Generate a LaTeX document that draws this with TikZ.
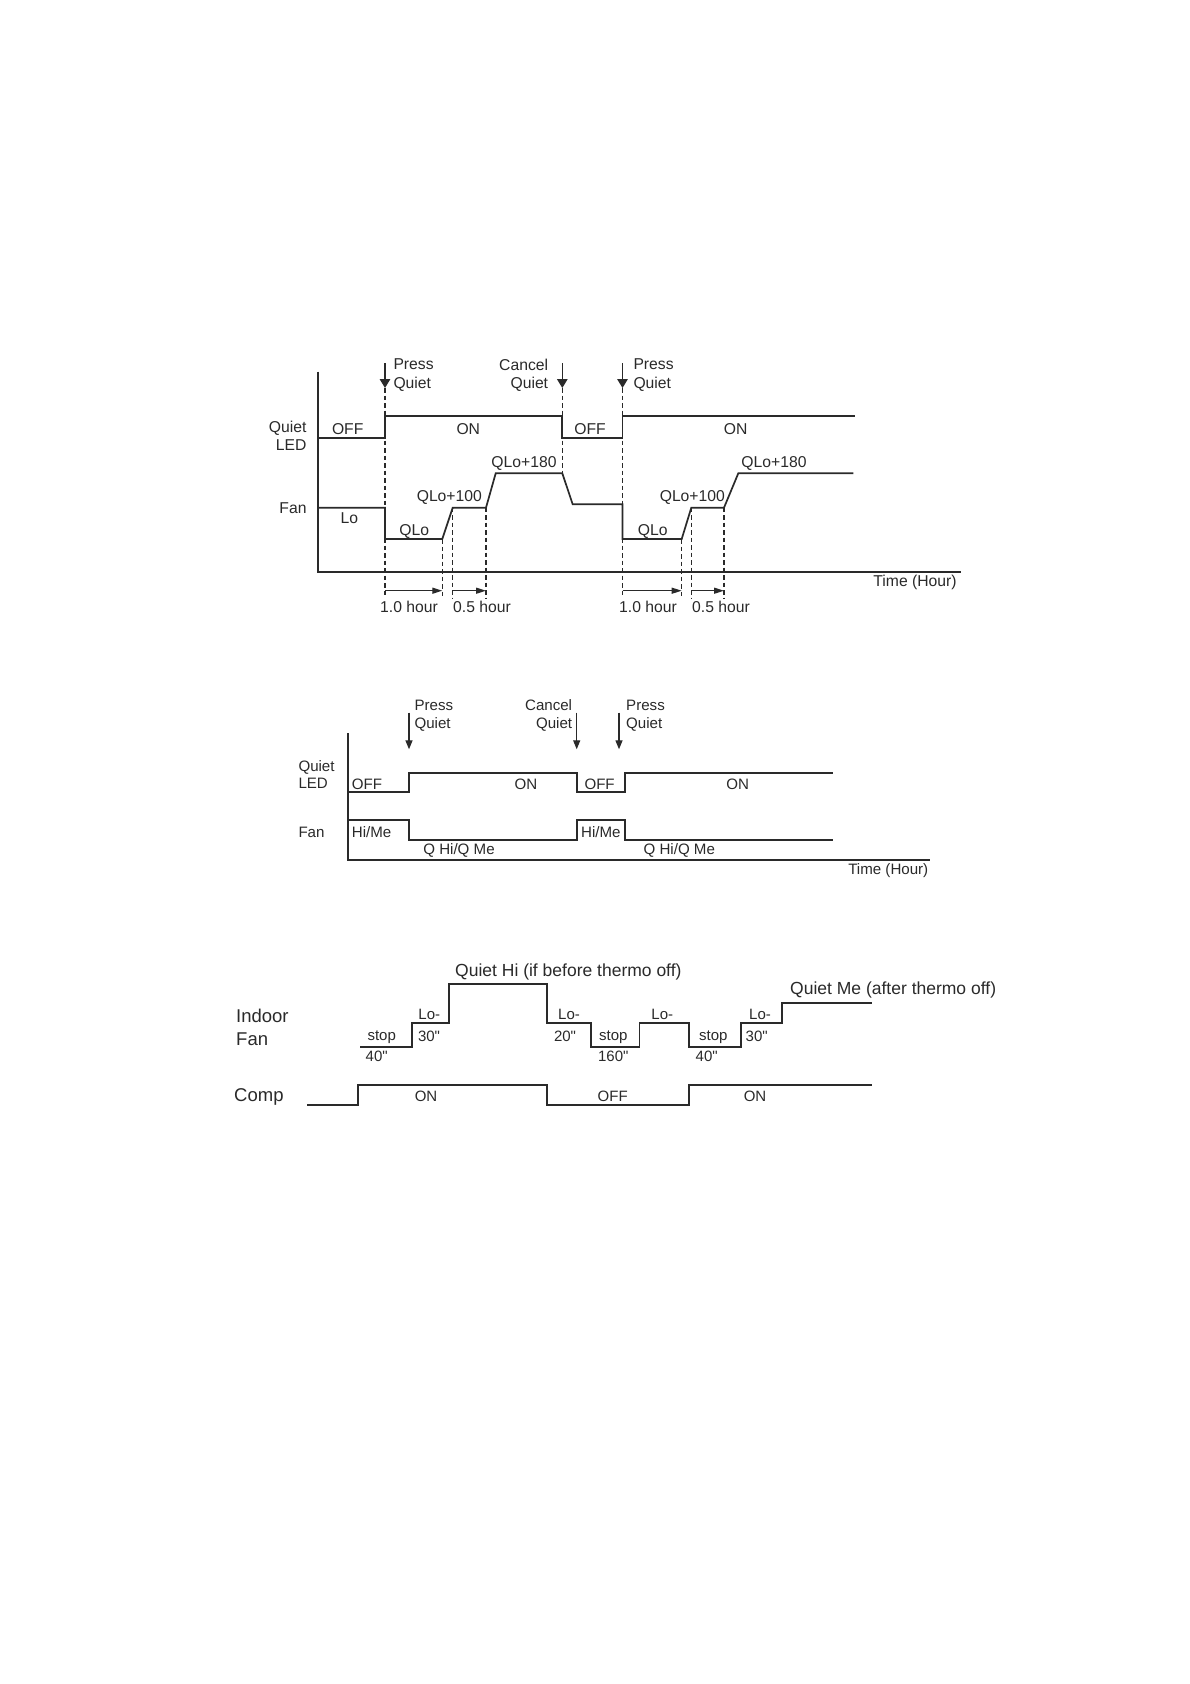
\documentclass[tikz,border=0pt]{standalone}
\usepackage{fontspec}
\setmainfont{Liberation Sans}
\newfontfamily\nomapfont{Liberation Sans}
\usetikzlibrary{arrows.meta}
\definecolor{ink}{HTML}{2A2A2A}
\newcommand{\dq}{{\nomapfont"}}
\tikzset{
  wave/.style={draw=ink, line width=1.7pt, line join=miter},
  axisline/.style={draw=ink, line width=1.7pt},
  guide/.style={draw=ink, line width=1.4pt, dash pattern=on 4.5pt off 3pt},
  evarrow/.style={draw=ink, line width=1.4pt, -{Triangle[length=9pt,width=10.5pt]}},
  evarrowb/.style={draw=ink, line width=1.3pt, -{Triangle[length=9pt,width=7pt]}},
  spanarrow/.style={draw=ink, line width=1.3pt, -{Triangle[length=10pt,width=6pt]}},
  ta/.style={inner sep=0pt, text=ink, font=\fontsize{15.7}{18.3}\selectfont},
  tb/.style={inner sep=0pt, text=ink, font=\fontsize{15.1}{17.6}\selectfont},
  tc/.style={inner sep=0pt, text=ink, font=\fontsize{15}{18}\selectfont},
  tbig/.style={inner sep=0pt, text=ink, font=\fontsize{18.5}{23.3}\selectfont},
  tmid/.style={inner sep=0pt, text=ink, font=\fontsize{17.5}{21}\selectfont},
}
\begin{document}
\begin{tikzpicture}[x=1pt,y=-1pt]
\useasboundingbox (0,0) rectangle (1190,1684);
\fill[white] (0,0) rectangle (1190,1684);

%% ---------------- Diagram 1 ----------------
\draw[axisline] (317.7,371.7) -- (317.7,571.7) -- (961,571.7);
% LED
\draw[wave] (317.7,438.3) -- (385,438.3) -- (385,415.7) -- (562.3,415.7) -- (562.3,438.3) -- (622.5,438.3) -- (622.5,415.7) -- (855,415.7);
% Fan
\draw[wave] (317.7,507.7) -- (385,507.7) -- (385,539) -- (442.3,539) -- (452.7,507.7) -- (486,507.7) -- (495.7,473.3) -- (562.3,473.3) -- (572.7,504.3) -- (622.5,504.3) -- (622.5,539) -- (681.7,539) -- (691.3,507.7) -- (724,507.7) -- (738.3,473.3) -- (853.3,473.3);
% guides
\draw[guide] (385,388) -- (385,598);
\draw[guide] (442.3,539) -- (442.3,598);
\draw[guide] (452.7,507.7) -- (452.7,598);
\draw[guide] (486,507.7) -- (486,598);
\draw[guide] (562.3,388) -- (562.3,473.3);
\draw[guide] (622.5,388) -- (622.5,598);
\draw[guide] (681.7,539) -- (681.7,598);
\draw[guide] (691.3,507.7) -- (691.3,598);
\draw[guide] (724,507.7) -- (724,598);
% event arrows
\draw[evarrow] (385,363) -- (385,388);
\draw[evarrow] (562.3,363) -- (562.3,388);
\draw[evarrow] (622.5,363) -- (622.5,388);
% span arrows
\draw[spanarrow] (385,590.7) -- (442.3,590.7);
\draw[spanarrow] (452.7,590.7) -- (486,590.7);
\draw[spanarrow] (622.5,590.7) -- (681.7,590.7);
\draw[spanarrow] (691.3,590.7) -- (724,590.7);
% labels
\node[ta, anchor=west, align=left] (a1) at (393.3,375.2) {Press\\Quiet};
\node[ta, anchor=east, align=right] (a2) at (548.3,375.2) {Cancel\\Quiet};
\node[ta, anchor=west, align=left] (a3) at (633.3,375.2) {Press\\Quiet};
\node[ta, anchor=east, align=right] (a4) at (306.7,435.5) {Quiet\\LED};
\node[ta, anchor=east] (a5) at (306.7,508.3) {Fan};
\node[ta] (a6) at (347.7,429.3) {OFF};
\node[ta] (a7) at (468.3,429.3) {ON};
\node[ta] (a8) at (590,429.3) {OFF};
\node[ta] (a9) at (735.7,429.3) {ON};
\node[ta] (a10) at (349.3,517.7) {Lo};
\node[ta] (a11) at (414.3,531) {QLo};
\node[ta] (a12) at (652.7,531) {QLo};
\node[ta] (a13) at (449.3,497.3) {QLo+100};
\node[ta] (a14) at (692.3,497.3) {QLo+100};
\node[ta] (a15) at (524,463.3) {QLo+180};
\node[ta] (a16) at (774,463.3) {QLo+180};
\node[ta] (a17) at (915,582.3) {Time (Hour)};
\node[ta] (a18) at (409,606.7) {1.0 hour};
\node[ta] (a19) at (482,606.7) {0.5 hour};
\node[ta] (a20) at (648,606.7) {1.0 hour};
\node[ta] (a21) at (721,606.7) {0.5 hour};

%% ---------------- Diagram 2 ----------------
\draw[axisline] (348.3,733.3) -- (348.3,860) -- (930,860);
\draw[wave] (348.3,792.3) -- (409.3,792.3) -- (409.3,773.3) -- (576.7,773.3) -- (576.7,792.3) -- (625,792.3) -- (625,773.3) -- (832.7,773.3);
\draw[wave] (348.3,820.3) -- (409.3,820.3) -- (409.3,840.3) -- (576.7,840.3) -- (576.7,820.3) -- (625,820.3) -- (625,840.3) -- (832.7,840.3);
\draw[evarrowb] (409,712.7) -- (409,749.3);
\draw[evarrowb] (576.7,712.7) -- (576.7,749.3);
\draw[evarrowb] (619,712.7) -- (619,749.3);
\node[tb, anchor=west, align=left] (b1) at (414.3,715.5) {Press\\Quiet};
\node[tb, anchor=east, align=right] (b2) at (572.3,715.5) {Cancel\\Quiet};
\node[tb, anchor=west, align=left] (b3) at (626,715.5) {Press\\Quiet};
\node[tb, anchor=west, align=left] (b4) at (298.3,774.5) {Quiet\\LED};
\node[tb, anchor=west] (b5) at (298.3,832.7) {Fan};
\node[tb, anchor=west] (b6) at (351.7,784.3) {OFF};
\node[tb] (b7) at (526,784.3) {ON};
\node[tb, anchor=west] (b8) at (584.3,784.3) {OFF};
\node[tb] (b9) at (737.7,784.3) {ON};
\node[tb, anchor=west] (b10) at (351.7,832) {Hi/Me};
\node[tb, anchor=west] (b11) at (581,832) {Hi/Me};
\node[tb] (b12) at (459,850.7) {Q Hi/Q Me};
\node[tb] (b13) at (679.3,850.7) {Q Hi/Q Me};
\node[tb] (b14) at (888.3,871) {Time (Hour)};

%% ---------------- Diagram 3 ----------------
\draw[wave] (360,1046.7) -- (411.7,1046.7) -- (411.7,1022.7) -- (449.3,1022.7) -- (449.3,984) -- (546.7,984) -- (546.7,1022.7) -- (590.7,1022.7) -- (590.7,1046.7) -- (639.5,1046.7) -- (639.5,1022.7) -- (688.7,1022.7) -- (688.7,1046.7) -- (741.3,1046.7) -- (741.3,1022.7) -- (782.3,1022.7) -- (782.3,1003.3) -- (871.7,1003.3);
\draw[wave] (307.3,1105) -- (358.3,1105) -- (358.3,1085.3) -- (546.7,1085.3) -- (546.7,1105) -- (689,1105) -- (689,1085.3) -- (871.7,1085.3);
\node[tbig, anchor=west, align=left] (c1) at (236,1027.7) {Indoor\\Fan};
\node[tbig, anchor=west] (c2) at (234,1096.7) {Comp};
\node[tmid, anchor=west] (c3) at (455,972.3) {Quiet Hi (if before thermo off)};
\node[tmid, anchor=west] (c4) at (790,990) {Quiet Me (after thermo off)};
\node[tc] (c5) at (381.7,1037.3) {stop};
\node[tc] (c6) at (376.7,1056) {40\dq};
\node[tc] (c7) at (429.3,1014.7) {Lo-};
\node[tc] (c8) at (429,1036) {30\dq};
\node[tc] (c9) at (569,1014.7) {Lo-};
\node[tc] (c10) at (565,1036) {20\dq};
\node[tc] (c11) at (613.3,1037.3) {stop};
\node[tc] (c12) at (613.3,1056) {160\dq};
\node[tc] (c13) at (662.3,1014.7) {Lo-};
\node[tc] (c14) at (713.3,1037.3) {stop};
\node[tc] (c15) at (706.7,1056) {40\dq};
\node[tc] (c16) at (760,1014.7) {Lo-};
\node[tc] (c17) at (756.7,1036) {30\dq};
\node[tc] (c18) at (426,1096) {ON};
\node[tc] (c19) at (612.7,1096) {OFF};
\node[tc] (c20) at (755,1096) {ON};
\end{tikzpicture}
\end{document}
